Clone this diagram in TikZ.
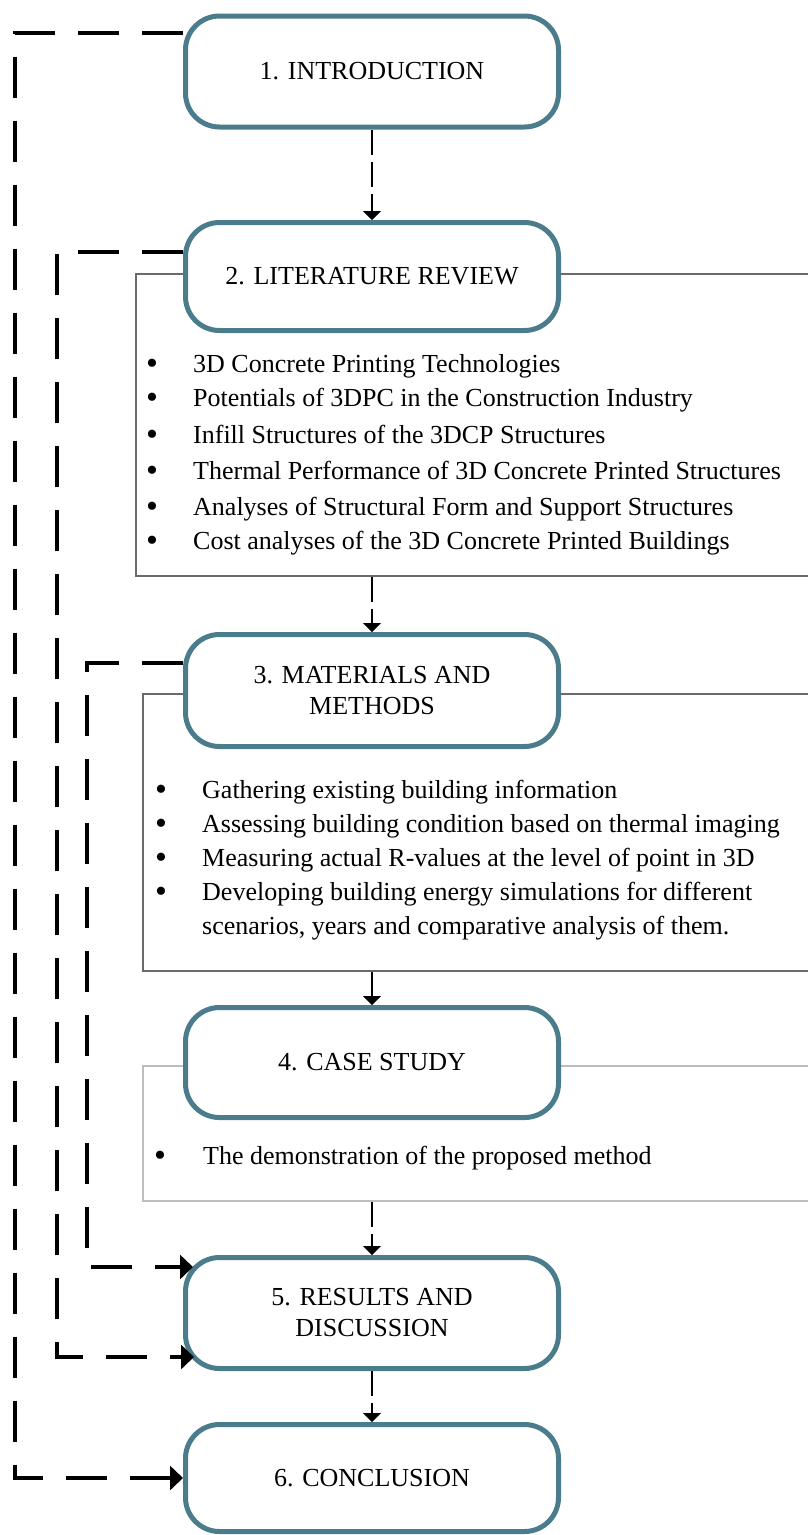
\documentclass[tikz,border=0pt]{standalone}
\usepackage{fontspec}
\setmainfont{Liberation Serif}
\usetikzlibrary{arrows.meta,positioning}
\definecolor{boxteal}{HTML}{4B7C8C}
\definecolor{panelgrey}{HTML}{6A6A6A}
\definecolor{panellight}{HTML}{BDBDBD}

\tikzset{
  stage/.style={draw=boxteal,line width=5pt,rounded corners=34pt,fill=white,
    minimum width=373pt,minimum height=111pt,align=center,
    font=\fontsize{26}{31}\selectfont},
  panel/.style={draw=panelgrey,line width=1.3pt,inner sep=0pt,minimum width=700pt},
  item/.style={anchor=base west,inner sep=0pt,align=left,
    font=\fontsize{26}{34}\selectfont},
  flow/.style={line width=1.6pt,dash pattern=on 25pt off 7pt,
    -{Triangle[length=9pt,width=18pt]}},
  back/.style={line width=4.5pt,dash pattern=on 41pt off 23pt,
    -{Triangle[length=13pt,width=24pt]}},
}
% bullet plus hanging indent of the list text
\newcommand{\bul}{\makebox[47pt][l]{\raisebox{-2.5pt}{\fontsize{34}{34}\selectfont\textbullet}}}

\begin{document}
\begin{tikzpicture}[x=1pt,y=-1pt]
  \useasboundingbox[fill=white] (0,0) rectangle (808,1535);

  % panels behind the stages
  \node[panel,minimum height=302pt] (litbox) at (486,425) {};
  \node[panel,minimum height=277pt] (methbox) at (493,832.5) {};
  \node[panel,draw=panellight,minimum height=135pt] (casebox) at (493,1133.5) {};

  % stages
  \node[stage] (intro) at (372,71.5) {1. INTRODUCTION};
  \node[stage,minimum height=108pt] (lit) at (372,276.5) {2. LITERATURE REVIEW};
  \node[stage,minimum height=112pt] (meth) at (372,690.5) {3. MATERIALS AND\\METHODS};
  \node[stage,minimum height=110pt] (case) at (372,1062.5) {4. CASE STUDY};
  \node[stage] (res) at (372,1313) {5. RESULTS AND\\DISCUSSION};
  \node[stage,minimum height=107pt] (concl) at (372,1478) {6. CONCLUSION};

  % bullet lists (base of a two-line item is its last line)
  \foreach \y/\txt [count=\i] in {
      372/3D Concrete Printing Technologies,
      406/Potentials of 3DPC in the Construction Industry,
      443/Infill Structures of the 3DCP Structures,
      479/Thermal Performance of 3D Concrete Printed Structures,
      515/Analyses of Structural Form and Support Structures,
      549/Cost analyses of the 3D Concrete Printed Buildings}
    \node[item] (lit-\i) at (146,\y) {\bul\txt};

  \foreach \y/\txt [count=\i] in {
      798/Gathering existing building information,
      832/Assessing building condition based on thermal imaging,
      866/Measuring actual R-values at the level of point in 3D,
      934/{Developing building energy simulations for different\\\hspace*{47pt}scenarios, years and comparative analysis of them.}}
    \node[item] (meth-\i) at (155,\y) {\bul\txt};

  \node[item] (case-1) at (154,1164) {\makebox[49pt][l]{\raisebox{-2.5pt}{\fontsize{34}{34}\selectfont\textbullet}}The demonstration of the proposed method};

  % main sequence
  \draw[flow] (intro) -- (lit);
  \draw[flow] (litbox.south -| meth) -- (meth);
  \draw[flow] (methbox.south -| case) -- (case);
  \draw[flow] (casebox.south -| res) -- (res);
  \draw[flow] (res) -- (concl);

  % feedback paths on the left
  \coordinate (j1) at (15,33);
  \coordinate (j2) at (57,252);
  \coordinate (j3) at (87,663);
  \coordinate (r-low) at (194,1357);
  \coordinate (r-high) at (193,1267);
  \draw[back] (intro.west |- j1) -- (j1) |- (concl.west);
  \draw[back] (lit.west |- j2) -- (j2) |- (r-low);
  \draw[back] (meth.west |- j3) -- (j3) |- (r-high);
\end{tikzpicture}
\end{document}
